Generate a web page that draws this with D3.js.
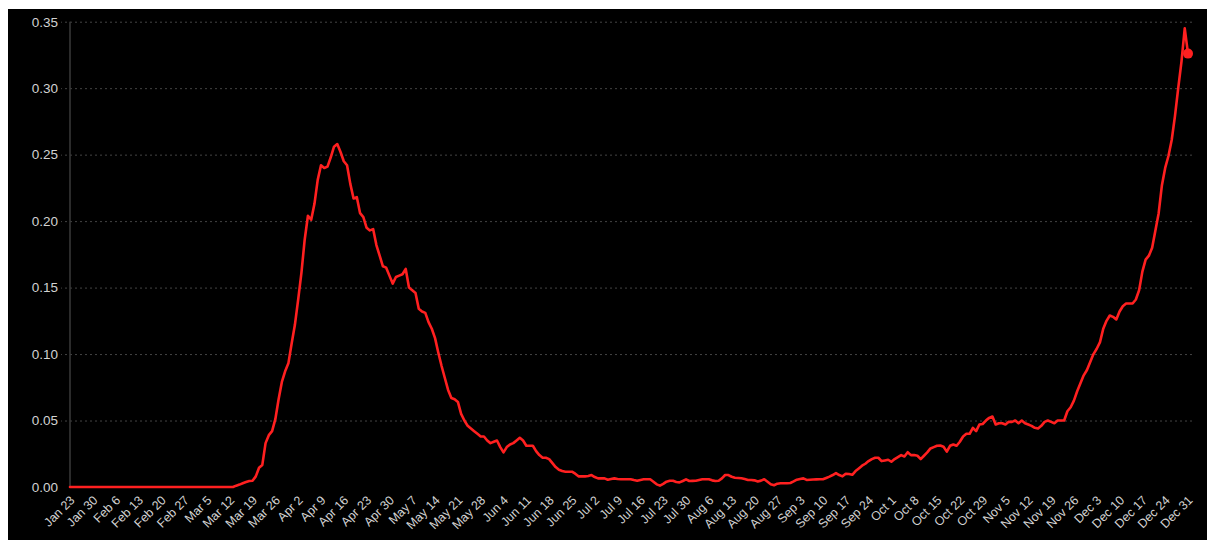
<!DOCTYPE html>
<html>
<head>
<meta charset="utf-8">
<script src="https://cdn.jsdelivr.net/npm/d3@7"></script>
<style>
  body { margin: 0; background: #fff; }
  svg { display: block; }
  .axis text { font-family: "Liberation Sans", Arial, sans-serif; fill: #d2d2d2; }
  .axis .domain { display: none; }
</style>
</head>
<body>
<div id="chart"></div>
<script>
// daily values, day 0 = Jan 23
const values = [
  0, 0, 0, 0, 0, 0, 0, 0, 0, 0,
  0, 0, 0, 0, 0, 0, 0, 0, 0, 0,
  0, 0, 0, 0, 0, 0, 0, 0, 0, 0,
  0, 0, 0, 0, 0, 0, 0, 0, 0, 0,
  0, 0, 0, 0, 0, 0, 0, 0, 0, 0,
  0, 0.001, 0.0018, 0.0028, 0.0037, 0.0045, 0.0047, 0.008, 0.0145, 0.0166,
  0.033, 0.039, 0.042, 0.051, 0.066, 0.079, 0.087, 0.093, 0.108, 0.122,
  0.141, 0.161, 0.186, 0.204, 0.201, 0.213, 0.231, 0.242, 0.240, 0.241,
  0.248, 0.256, 0.258, 0.252, 0.245, 0.242, 0.228, 0.217, 0.218, 0.206,
  0.203, 0.195, 0.193, 0.194, 0.182, 0.174, 0.166, 0.165, 0.159, 0.153,
  0.158, 0.159, 0.160, 0.164, 0.150, 0.148, 0.146, 0.134, 0.132, 0.131,
  0.124, 0.119, 0.112, 0.101, 0.091, 0.082, 0.073, 0.067, 0.066, 0.064,
  0.055, 0.050, 0.046, 0.044, 0.042, 0.040, 0.038, 0.038, 0.035, 0.033,
  0.034, 0.035, 0.030, 0.026, 0.030, 0.032, 0.033, 0.035, 0.037, 0.035,
  0.031, 0.031, 0.031, 0.027, 0.024, 0.022, 0.022, 0.021, 0.018, 0.015,
  0.013, 0.012, 0.0115, 0.0115, 0.0115, 0.010, 0.008, 0.008, 0.008, 0.0083,
  0.009, 0.0075, 0.0065, 0.0065, 0.0065, 0.0055, 0.006, 0.0065, 0.006, 0.0058,
  0.0058, 0.0058, 0.0058, 0.0052, 0.0047, 0.0053, 0.0058, 0.0058, 0.0058, 0.004,
  0.002, 0.001, 0.0023, 0.004, 0.0047, 0.0047, 0.0038, 0.0035, 0.0045, 0.0058,
  0.0045, 0.0046, 0.0047, 0.0053, 0.0058, 0.0058, 0.0058, 0.005, 0.0045, 0.0047,
  0.0065, 0.009, 0.009, 0.0077, 0.007, 0.0068, 0.0066, 0.006, 0.0053, 0.0053,
  0.005, 0.0042, 0.0048, 0.0058, 0.004, 0.002, 0.0013, 0.0025, 0.0028, 0.0028,
  0.0028, 0.003, 0.0042, 0.0055, 0.006, 0.0065, 0.0053, 0.0055, 0.0056, 0.0057,
  0.0058, 0.0058, 0.0068, 0.0078, 0.009, 0.0105, 0.009, 0.008, 0.010, 0.0098,
  0.0092, 0.012, 0.014, 0.016, 0.0175, 0.0195, 0.021, 0.022, 0.022, 0.0195,
  0.020, 0.0205, 0.019, 0.021, 0.0225, 0.024, 0.023, 0.0262, 0.024, 0.024,
  0.0235, 0.021, 0.0235, 0.026, 0.029, 0.030, 0.031, 0.0312, 0.0303, 0.0266,
  0.031, 0.032, 0.031, 0.034, 0.038, 0.040, 0.040, 0.0445, 0.042, 0.047,
  0.0474, 0.050, 0.052, 0.053, 0.047, 0.048, 0.048, 0.047, 0.049, 0.049,
  0.050, 0.048, 0.050, 0.048, 0.047, 0.046, 0.0445, 0.044, 0.046, 0.049,
  0.050, 0.049, 0.048, 0.050, 0.050, 0.050, 0.057, 0.060, 0.065, 0.072,
  0.078, 0.084, 0.088, 0.094, 0.100, 0.104, 0.109, 0.119, 0.125, 0.129,
  0.128, 0.126, 0.132, 0.136, 0.138, 0.138, 0.138, 0.141, 0.148, 0.162,
  0.171, 0.174, 0.180, 0.193, 0.206, 0.227, 0.240, 0.249, 0.261, 0.279,
  0.300, 0.320, 0.345, 0.326
];

// weekly tick labels (every 7th day)
const tickLabels = [
  'Jan 23', 'Jan 30', 'Feb 6', 'Feb 13', 'Feb 20', 'Feb 27', 'Mar 5', 'Mar 12', 'Mar 19', 'Mar 26',
  'Apr 2', 'Apr 9', 'Apr 16', 'Apr 23', 'Apr 30', 'May 7', 'May 14', 'May 21', 'May 28', 'Jun 4',
  'Jun 11', 'Jun 18', 'Jun 25', 'Jul 2', 'Jul 9', 'Jul 16', 'Jul 23', 'Jul 30', 'Aug 6', 'Aug 13',
  'Aug 20', 'Aug 27', 'Sep 3', 'Sep 10', 'Sep 17', 'Sep 24', 'Oct 1', 'Oct 8', 'Oct 15', 'Oct 22',
  'Oct 29', 'Nov 5', 'Nov 12', 'Nov 19', 'Nov 26', 'Dec 3', 'Dec 10', 'Dec 17', 'Dec 24', 'Dec 31'
];

const yTicks = [0, 0.05, 0.10, 0.15, 0.20, 0.25, 0.30, 0.35];

const W = 1207, H = 540;
const margin = {left: 70, top: 21.7, right: 15, bottom: 53};

const svg = d3.select('#chart').append('svg')
  .attr('width', W)
  .attr('height', H);

// black panel
svg.append('rect')
  .attr('x', 8).attr('y', 9)
  .attr('width', W - 8).attr('height', H - 9)
  .attr('fill', '#000');

const x = d3.scaleLinear()
  .domain([0, values.length - 1])
  .range([margin.left, 1188]);
const y = d3.scaleLinear()
  .domain([0, 0.35])
  .range([H - margin.bottom, margin.top]);
const gridRight = 1192;

// y grid + labels
const yAxisG = svg.append('g')
  .attr('class', 'axis y-axis')
  .attr('transform', `translate(${gridRight}, 0)`)
  .call(d3.axisLeft(y)
    .tickValues(yTicks)
    .tickFormat(d3.format('.2f'))
    .tickSize(gridRight - 61)
    .tickPadding(3));
yAxisG.selectAll('text').attr('font-size', 13.5);
yAxisG.selectAll('.tick line')
  .attr('stroke', (d) => d === 0 ? 'none' : '#444')
  .attr('stroke-dasharray', '2,3');

// y axis line
svg.append('line')
  .attr('x1', margin.left).attr('x2', margin.left)
  .attr('y1', y(0.35)).attr('y2', y(0))
  .attr('stroke', '#3a3a3a')
  .attr('stroke-width', 1.5);

// x labels
const xAxisG = svg.append('g')
  .attr('class', 'axis x-axis')
  .attr('transform', `translate(0, ${y(0)})`)
  .call(d3.axisBottom(x)
    .tickValues(tickLabels.map((t, i) => i * 7))
    .tickFormat((d) => tickLabels[d / 7])
    .tickSize(0));
xAxisG.selectAll('text')
  .attr('font-size', 12.5)
  .attr('text-anchor', 'end')
  .attr('dy', null)
  .attr('y', 0)
  .attr('transform', 'translate(5, 14) rotate(-45)');

// line
const line = d3.line()
  .x((d, i) => x(i))
  .y((d) => y(d))
  .curve(d3.curveLinear);

svg.append('path')
  .datum(values)
  .attr('d', line)
  .attr('fill', 'none')
  .attr('stroke', '#ff2020')
  .attr('stroke-width', 2.6)
  .attr('stroke-linejoin', 'round')
  .attr('stroke-linecap', 'round');

// end point marker
svg.append('circle')
  .attr('cx', x(values.length - 1))
  .attr('cy', y(values[values.length - 1]))
  .attr('r', 5)
  .attr('fill', '#ff2020');
</script>
</body>
</html>
